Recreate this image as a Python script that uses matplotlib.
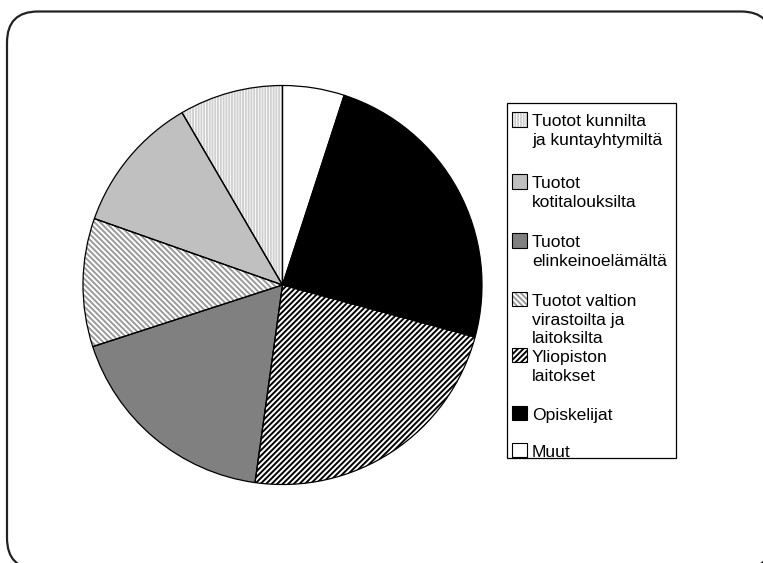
import matplotlib
matplotlib.use("Agg")
import matplotlib.pyplot as plt
from matplotlib.patches import FancyBboxPatch, Rectangle

plt.rcParams['font.family'] = ['Liberation Sans', 'DejaVu Sans']
plt.rcParams['hatch.linewidth'] = 1.4

# Data (pie order: clockwise from 12 o'clock)
labels = ["Muut", "Opiskelijat", "Yliopiston\nlaitokset",
          "Tuotot\nelinkeinoelämältä", "Tuotot valtion\nvirastoilta ja\nlaitoksilta",
          "Tuotot\nkotitalouksilta", "Tuotot kunnilta\nja kuntayhtymiltä"]
shares = [5.0, 24.2, 23.0, 17.8, 10.4, 11.2, 8.4]
# legend order (top to bottom), as indices into the lists above
legend_order = [6, 5, 3, 4, 2, 1, 0]

# Styles
faces = ["white", "black", "white", "#808080", "white", "#c0c0c0", "white"]
hatches = [None, None, "//////", None, "\\\\\\\\\\\\", None, "||||||"]
hatch_cols = ["white", "black", "black", "#808080", "#9a9a9a", "#c0c0c0", "#d0d0d0"]

fig = plt.figure(figsize=(7.63, 5.63), dpi=100)

# background layer in pixel coordinates
bg = fig.add_axes([0, 0, 1, 1], zorder=0)
bg.set_xlim(0, 763)
bg.set_ylim(563, 0)
bg.axis('off')
frame = FancyBboxPatch((7, 11.5), 765, 557.5, boxstyle="round,pad=0,rounding_size=31",
                       facecolor="white", edgecolor="#222222", linewidth=1.6)
bg.add_patch(frame)

# pie
cx, cy, r = 282.5, 285.0, 200.5
ax = fig.add_axes([(cx - r) / 763, (563 - cy - r) / 563, 2 * r / 763, 2 * r / 563], zorder=1)
wedges, _ = ax.pie(shares, startangle=90, counterclock=False, radius=1.0,
                   wedgeprops=dict(linewidth=0))
for w, fc, h, hc in zip(wedges, faces, hatches, hatch_cols):
    w.set_facecolor(fc)
    w.set_edgecolor(hc)
    if h:
        w.set_hatch(h)
outl, _ = ax.pie(shares, startangle=90, counterclock=False, radius=1.0,
                 wedgeprops=dict(facecolor="none", edgecolor="black", linewidth=0.9))
ax.set_xlim(-1.005, 1.005)
ax.set_ylim(-1.005, 1.005)
ax.set_aspect('equal')
ax.axis('off')

# legend (manual)
leg = fig.add_axes([0, 0, 1, 1], zorder=2)
leg.set_xlim(0, 763)
leg.set_ylim(563, 0)
leg.axis('off')
leg.add_patch(Rectangle((507, 103), 169, 355, facecolor="white", edgecolor="black", linewidth=0.9))
baselines = [126.5, 188.5, 247.5, 306, 362, 420, 457]
for b, i in zip(baselines, legend_order):
    leg.add_patch(Rectangle((512, b - 14.5), 14.5, 14.5, facecolor=faces[i],
                            edgecolor=hatch_cols[i], hatch=hatches[i], linewidth=0))
    leg.add_patch(Rectangle((512, b - 14.5), 14.5, 14.5, facecolor="none",
                            edgecolor="black", linewidth=0.8))
    leg.text(532, b - 12.3, labels[i], fontsize=12.6, va='top', ha='left',
             linespacing=1.32, color="black")

fig.savefig("out.png", dpi=100)
